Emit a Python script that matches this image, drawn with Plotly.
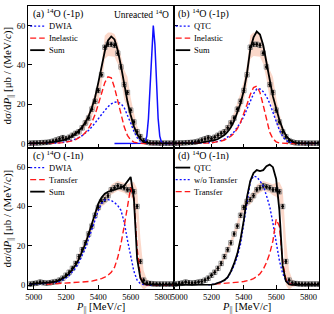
import plotly.graph_objects as go
from plotly.subplots import make_subplots

# ---------------- data ----------------
GRID = list(range(4980, 5861, 20))  # P|| grid (MeV/c), 45 points

# experimental -1p data and its systematic band half-width
DATA_P = [0.2, 0.3, 0.3, 0.4, 0.5, 0.6, 0.8, 1.2, 1.8, 2.4,
          3.0, 2.5, 3.2, 4.2, 5.2, 6.0, 8.0, 10.5, 13.0, 17.5,
          21.5, 27.0, 35.0, 49.0, 50.5, 50.5, 50.0, 46.0, 39.0, 30.0,
          26.0, 17.0, 11.0, 6.0, 3.5, 1.5, 0.8, 0.4, 0.3, 0.3,
          0.2, 0.2, 0.2, 0.2, 0.2]
BAND_P = [0.6, 0.6, 0.6, 0.6, 0.6, 0.6, 0.6, 0.7, 0.8, 0.9,
          1.0, 1.0, 1.1, 1.2, 1.3, 1.4, 1.8, 2.2, 2.8, 3.5,
          4.2, 5.0, 5.5, 6.0, 6.0, 6.0, 5.8, 5.5, 6.0, 7.5,
          8.0, 6.5, 4.5, 3.0, 2.0, 1.2, 0.8, 0.6, 0.5, 0.5,
          0.5, 0.5, 0.5, 0.5, 0.5]

# experimental -1n data and band half-width
DATA_N = [0.5, 0.8, 1.0, 1.5, 1.2, 1.0, 1.2, 1.5, 1.8, 2.5,
          3.5, 5.0, 6.5, 8.5, 11.0, 14.5, 18.0, 21.5, 26.0, 30.0,
          35.5, 39.5, 42.5, 43.5, 45.5, 48.5, 49.5, 50.5, 50.0, 49.5,
          48.5, 48.5, 47.5, 40.0, 12.0, 2.5, 1.0, 0.8, 0.6, 0.5,
          0.5, 0.5, 0.5, 0.5, 0.5]
BAND_N = [0.5, 0.5, 0.5, 0.5, 0.5, 0.5, 0.5, 0.5, 0.5, 0.5,
          0.6, 0.8, 1.0, 1.2, 1.4, 1.6, 1.8, 2.0, 2.2, 2.5,
          2.5, 2.5, 2.5, 2.5, 2.5, 2.5, 2.5, 2.5, 2.5, 2.5,
          2.8, 3.5, 5.0, 9.0, 12.0, 5.0, 2.0, 1.0, 0.6, 0.5,
          0.5, 0.5, 0.5, 0.5, 0.5]

# (a) -1p : DWIA, Inelastic, Sum
DWIA_A = [0, 0, 0, 0, 0.05, 0.1, 0.15, 0.2, 0.3, 0.4,
          0.6, 0.8, 1.2, 1.7, 2.3, 3.1, 4.0, 5.2, 6.7, 8.5,
          10.4, 12.6, 14.8, 17.0, 18.8, 20.2, 21.0, 21.2, 20.3, 18.3,
          14.8, 10.5, 6.3, 3.0, 1.1, 0.3, 0.1, 0, 0, 0,
          0, 0, 0, 0, 0]
INEL_A = [0, 0, 0, 0, 0.05, 0.08, 0.1, 0.15, 0.25, 0.35,
          0.5, 0.7, 1.0, 1.4, 2.0, 2.8, 4.0, 5.6, 7.8, 10.8,
          14.8, 20.0, 26.0, 31.0, 34.0, 33.5, 28.5, 21.5, 14.5, 8.5,
          4.2, 1.8, 0.7, 0.25, 0.1, 0, 0, 0, 0, 0,
          0, 0, 0, 0, 0]
SUM_A = [0.1, 0.1, 0.15, 0.2, 0.3, 0.4, 0.5, 0.7, 0.9, 1.2,
         1.6, 2.1, 2.8, 3.7, 4.9, 6.5, 8.4, 10.8, 14.0, 18.2,
         23.6, 31.0, 39.5, 47.0, 52.5, 54.5, 53.0, 47.5, 39.5, 30.0,
         21.5, 14.5, 8.8, 4.8, 2.2, 0.9, 0.35, 0.1, 0.05, 0.05,
         0.05, 0.05, 0.05, 0.05, 0.05]
UNREACT_X = [5500, 5600, 5670, 5680, 5690, 5700, 5710, 5720, 5730, 5740,
             5750, 5760, 5770, 5780, 5790, 5800, 5810, 5860]
UNREACT_Y = [0, 0, 0.02, 0.1, 0.8, 3.8, 12.7, 30.0, 50.5, 60.0,
             50.5, 30.0, 12.7, 3.8, 0.8, 0.1, 0.02, 0]

# (b) -1p : QTC, Inelastic, Sum
QTC_B = [0.02, 0.03, 0.04, 0.05, 0.06, 0.08, 0.1, 0.13, 0.17, 0.25,
         0.35, 0.5, 0.75, 1.1, 1.6, 2.3, 3.2, 4.4, 6.0, 8.1,
         10.7, 13.8, 17.4, 21.4, 25.3, 27.8, 27.8, 26.4, 24.0, 20.5,
         15.8, 10.8, 6.8, 3.6, 1.7, 0.7, 0.25, 0.1, 0.05, 0.02,
         0.02, 0.02, 0.02, 0.02, 0.02]
INEL_B = [0, 0, 0, 0, 0.05, 0.07, 0.1, 0.13, 0.17, 0.22,
          0.3, 0.4, 0.6, 0.9, 1.3, 1.8, 2.6, 3.7, 5.3, 7.6,
          10.8, 15.0, 20.0, 25.0, 28.5, 29.2, 26.0, 19.5, 11.8, 5.8,
          2.4, 0.9, 0.3, 0.1, 0.05, 0, 0, 0, 0, 0,
          0, 0, 0, 0, 0]
SUM_B = [0.05, 0.07, 0.1, 0.13, 0.17, 0.22, 0.3, 0.4, 0.6, 0.8,
         1.0, 1.3, 1.7, 2.3, 3.1, 4.3, 6.0, 8.3, 11.5, 15.5,
         20.5, 27.0, 36.0, 48.0, 54.0, 57.0, 55.5, 50.0, 42.0, 32.5,
         24.0, 17.5, 12.0, 7.5, 4.2, 2.2, 1.0, 0.4, 0.15, 0.08,
         0.05, 0.05, 0.05, 0.05, 0.05]

# (c) -1n : DWIA, Transfer, Sum
DWIA_C = [0.3, 0.4, 0.5, 0.6, 0.7, 0.8, 0.9, 1.1, 1.4, 1.9,
          2.6, 3.5, 4.8, 6.5, 8.7, 11.5, 14.8, 18.8, 23.5, 28.5,
          33.5, 38.0, 41.5, 43.3, 43.5, 43.0, 42.0, 40.5, 38.0, 32.0,
          23.0, 14.5, 7.0, 2.5, 0.7, 0.2, 0, 0, 0, 0,
          0, 0, 0, 0, 0]
TRANS_C = [None, None, None, None, None, 0.4, 0.5, 0.55, 0.6, 0.65,
           0.7, 0.8, 0.85, 0.95, 1.1, 1.2, 1.4, 1.55, 1.8, 2.0,
           2.4, 2.8, 3.3, 4.0, 5.0, 6.5, 9.0, 14.0, 21.0, 30.0,
           40.5, 49.5, 44.0, 19.0, 4.0, 0.8, 0.2, 0.05, 0, 0,
           0, 0, 0, 0, 0]
SUM_C = [0.5, 0.7, 0.9, 1.0, 1.1, 1.2, 1.3, 1.5, 1.9, 2.5,
         3.3, 4.4, 5.9, 7.8, 10.2, 13.2, 16.8, 21.0, 26.0, 31.5,
         37.0, 41.5, 44.5, 46.5, 47.5, 48.0, 48.5, 49.0, 49.5, 50.5,
         53.0, 55.0, 44.0, 13.5, 3.5, 0.8, 0.3, 0.1, 0.05, 0.05,
         0.05, 0.05, 0.05, 0.05, 0.05]

# (d) -1n : QTC, w/o Transfer, Transfer
QTC_D = [0.05, 0.05, 0.05, 0.05, 0.05, 0.05, 0.05, 0.05, 0.05, 0.05,
         0.1, 0.2, 0.5, 1.0, 1.7, 2.5, 4.0, 7.0, 11.0, 16.0,
         23.5, 33.0, 45.0, 53.0, 57.0, 58.5, 58.0, 58.5, 60.5, 61.3,
         60.0, 54.0, 38.0, 10.0, 2.0, 0.4, 0.1, 0.05, 0.05, 0.05,
         0.05, 0.05, 0.05, 0.05, 0.05]
WO_D = [None, None, None, None, None, None, None, None, None, None,
        0.1, 0.2, 0.5, 1.0, 1.6, 2.4, 3.8, 6.5, 10.0, 14.5,
        21.0, 32.0, 44.0, 52.5, 55.5, 55.0, 53.0, 50.5, 45.5, 40.0,
        31.5, 21.5, 12.5, 6.0, 2.3, 0.7, 0.2, None, None, None,
        None, None, None, None, None]
TRANS_D = [None, None, None, None, None, None, None, None, None, None,
           None, None, 0.5, 0.6, 0.7, 0.8, 0.9, 1.0, 1.2, 1.4,
           1.6, 1.8, 2.1, 2.6, 3.3, 4.3, 5.8, 8.0, 11.5, 16.0,
           22.5, 33.5, 30.0, 12.0, 3.0, 0.8, 0.2, 0.05, None, None,
           None, None, None, None, None]

X_TICKS = [5000, 5200, 5400, 5600, 5800]
Y_TICKS = [0, 20, 40, 60]

# ---------------- styling ----------------
FONT = "Liberation Serif"
BLUE = "#1010ff"
RED = "#ff1a1a"
BLACK = "#000000"
BAND_COLOR = "rgba(246,168,138,0.45)"

fig = make_subplots(rows=2, cols=2, horizontal_spacing=0, vertical_spacing=0)


def add_band(r, c, y, w):
    xs = GRID + GRID[::-1]
    ys = [a + b for a, b in zip(y, w)] + [a - b for a, b in zip(y, w)][::-1]
    fig.add_trace(go.Scatter(x=xs, y=ys, fill="toself", fillcolor=BAND_COLOR,
                             line=dict(width=0), mode="lines", hoverinfo="skip",
                             showlegend=False), row=r, col=c)


def add_data(r, c, y):
    fig.add_trace(go.Scatter(x=GRID, y=y, mode="markers",
                             marker=dict(symbol="square-open", size=4.5,
                                         color="#8a8a8a", line=dict(width=0.8)),
                             showlegend=False), row=r, col=c)
    fig.add_trace(go.Scatter(x=GRID, y=y, mode="markers",
                             marker=dict(symbol="circle", size=2.8, color=BLACK),
                             error_y=dict(type="constant", value=1.0, color=BLACK,
                                          thickness=0.8, width=1),
                             error_x=dict(type="constant", value=6, color=BLACK,
                                          thickness=0.8, width=0),
                             showlegend=False), row=r, col=c)


def add_curve(r, c, x, y, color, dash, width):
    fig.add_trace(go.Scatter(x=x, y=y, mode="lines",
                             line=dict(color=color, dash=dash, width=width),
                             connectgaps=False, showlegend=False), row=r, col=c)


DOT = "2px,2px"
DASH = "6px,3px"

# (a)
add_band(1, 1, DATA_P, BAND_P)
add_data(1, 1, DATA_P)
add_curve(1, 1, UNREACT_X, UNREACT_Y, BLUE, "solid", 1.5)
add_curve(1, 1, GRID, DWIA_A, BLUE, DOT, 1.4)
add_curve(1, 1, GRID, INEL_A, RED, DASH, 1.4)
add_curve(1, 1, GRID, SUM_A, BLACK, "solid", 1.8)
# (b)
add_band(1, 2, DATA_P, BAND_P)
add_data(1, 2, DATA_P)
add_curve(1, 2, GRID, QTC_B, BLUE, DOT, 1.4)
add_curve(1, 2, GRID, INEL_B, RED, DASH, 1.4)
add_curve(1, 2, GRID, SUM_B, BLACK, "solid", 1.8)
# (c)
add_band(2, 1, DATA_N, BAND_N)
add_data(2, 1, DATA_N)
add_curve(2, 1, GRID, DWIA_C, BLUE, DOT, 1.4)
add_curve(2, 1, GRID, TRANS_C, RED, DASH, 1.4)
add_curve(2, 1, GRID, SUM_C, BLACK, "solid", 1.8)
# (d)
add_band(2, 2, DATA_N, BAND_N)
add_data(2, 2, DATA_N)
add_curve(2, 2, GRID, WO_D, BLUE, DOT, 1.4)
add_curve(2, 2, GRID, TRANS_D, RED, DASH, 1.4)
add_curve(2, 2, GRID, QTC_D, BLACK, "solid", 1.8)

axis_common = dict(showline=True, linecolor=BLACK, linewidth=1, mirror=True,
                   ticks="inside", ticklen=4, tickcolor=BLACK, showgrid=False,
                   zeroline=False, tickfont=dict(family=FONT, size=8.5, color=BLACK))
for r in (1, 2):
    for c in (1, 2):
        fig.update_xaxes(range=[4965, 5865], tickvals=X_TICKS,
                         showticklabels=(r == 2), ticklabelstandoff=0,
                         **axis_common, row=r, col=c)
        fig.update_yaxes(range=[-2, 70], tickvals=Y_TICKS,
                         showticklabels=(c == 1), **axis_common, row=r, col=c)

# panel labels and legends
panels = [
    ("x", "y", "(a) <sup>14</sup>O (-1p)",
     [("DWIA", BLUE, DOT, 1.4), ("Inelastic", RED, DASH, 1.4), ("Sum", BLACK, "solid", 1.8)]),
    ("x2", "y2", "(b) <sup>14</sup>O (-1p)",
     [("QTC", BLUE, DOT, 1.4), ("Inelastic", RED, DASH, 1.4), ("Sum", BLACK, "solid", 1.8)]),
    ("x3", "y3", "(c) <sup>14</sup>O (-1n)",
     [("DWIA", BLUE, DOT, 1.4), ("Transfer", RED, DASH, 1.4), ("Sum", BLACK, "solid", 1.8)]),
    ("x4", "y4", "(d) <sup>14</sup>O (-1n)",
     [("QTC", BLACK, "solid", 1.8), ("w/o Transfer", BLUE, DOT, 1.4), ("Transfer", RED, DASH, 1.4)]),
]
for xr, yr, label, items in panels:
    fig.add_annotation(x=0.02, y=0.945, xref=f"{xr} domain", yref=f"{yr} domain",
                       text=label, showarrow=False, xanchor="left", yanchor="middle",
                       font=dict(family=FONT, size=10, color=BLACK))
    for i, (name, color, dash, w) in enumerate(items):
        yy = 0.858 - 0.085 * i
        fig.add_shape(type="line", xref=f"{xr} domain", yref=f"{yr} domain",
                      x0=0.015, x1=0.115, y0=yy, y1=yy,
                      line=dict(color=color, dash=dash, width=w))
        fig.add_annotation(x=0.13, y=yy, xref=f"{xr} domain", yref=f"{yr} domain",
                           text=name, showarrow=False, xanchor="left", yanchor="middle",
                           font=dict(family=FONT, size=8.5, color=BLACK))

fig.add_annotation(x=0.985, y=0.945, xref="x domain", yref="y domain",
                   text="Unreacted <sup>14</sup>O", showarrow=False,
                   xanchor="right", yanchor="middle",
                   font=dict(family=FONT, size=9.5, color=BLACK))

# axis titles
ytitle = "dσ/d<i>P</i><sub>||</sub> [μb / (MeV/<i>c</i>)]"
for yc in (0.755, 0.25):
    fig.add_annotation(x=-0.068, y=yc, xref="paper", yref="paper", text=ytitle,
                       textangle=-90, showarrow=False, xanchor="center", yanchor="middle",
                       font=dict(family=FONT, size=11, color=BLACK))
xtitle = "<i>P</i><sub>||</sub> [MeV/<i>c</i>]"
for xc in (0.25, 0.75):
    fig.add_annotation(x=xc, y=-0.036, xref="paper", yref="paper", text=xtitle,
                       showarrow=False, xanchor="center", yanchor="top",
                       font=dict(family=FONT, size=10.5, color=BLACK))

fig.update_layout(width=334, height=314, margin=dict(l=28, r=15, t=6, b=25),
                  paper_bgcolor="white", plot_bgcolor="white", showlegend=False,
                  hovermode=False, font=dict(family=FONT, color=BLACK))

fig.write_html("out.html", config={"displayModeBar": False},
               post_script="document.body.style.margin='0px';"
                           "document.body.style.overflow='hidden';")
